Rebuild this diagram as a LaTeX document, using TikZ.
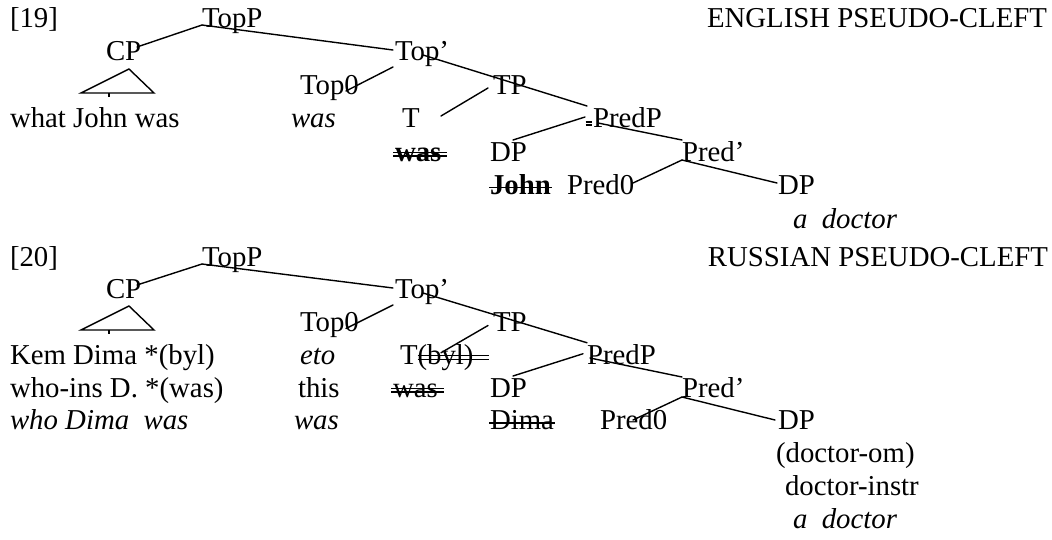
\documentclass[tikz,border=0pt]{standalone}
\usepackage{fontspec}
\setmainfont{Liberation Serif}
\begin{document}
\begin{tikzpicture}[x=1pt,y=-1pt,
  every node/.style={inner sep=0pt, outer sep=0pt, anchor=base west, font=\fontsize{28.8}{33}\selectfont},
  it/.style={font=\fontsize{28.8}{33}\selectfont\itshape},
  bf/.style={font=\fontsize{28.8}{33}\selectfont\bfseries},
  edge/.style={line width=1.4pt, line cap=round},
  strike/.style={line width=1.6pt},
  dstrike/.style={line width=1.1pt}]
\useasboundingbox (0,0) rectangle (1052,539);

% ---------------- English ----------------
\node (e19) at (10,27) {[19]};
\node (eTopP) at (202,27) {TopP};
\node[anchor=base east] (eTitle) at (1047,27) {ENGLISH PSEUDO-CLEFT};
\node (eCP) at (106,60.5) {CP};
\node (eTopb) at (395,60.5) {Top’};
\node (eTop0) at (300,94) {Top0};
\node (eTP) at (493,94) {TP};
\node (eWhat) at (10,127.5) {what John was};
\node[it] (eWas) at (291,127.5) {was};
\node (eT) at (402,127.5) {T};
\node (ePredP) at (593,127.5) {PredP};
\node[bf] (eWasS) at (395,161) {was};
\node (eDP) at (490,161) {DP};
\node (ePredb) at (682,161) {Pred’};
\node[bf] (eJohn) at (490,194.5) {John};
\node (ePred0) at (567,194.5) {Pred0};
\node (eDPb) at (778,194.5) {DP};
\node[it] (eDoc) at (793,228) {a\ \ doctor};

\coordinate (eTopP-a) at (202,25);
\coordinate (eCP-a) at (137,47);
\coordinate (eTopb-a) at (393,50);
\coordinate (eTopb-b) at (393,67);
\coordinate (eTop0-a) at (346,91);
\coordinate (eTopb-c) at (423,55);
\coordinate (eTP-a) at (508,81.4);
\coordinate (ePredP-a) at (587,106);
\coordinate (eTP-b) at (488,88);
\coordinate (eT-a) at (441,116);
\coordinate (ePredP-b) at (585,117);
\coordinate (eDP-a) at (513,140);
\coordinate (ePredP-c) at (598,123);
\coordinate (ePredb-a) at (682,140);
\coordinate (ePredb-b) at (682,160);
\coordinate (ePred0-a) at (633,183);
\coordinate (eDPb-a) at (777,183);
\coordinate (eTri-top) at (129,69);
\coordinate (eTri-l) at (81,93);
\coordinate (eTri-r) at (154,93);

\draw[edge] (eTopP-a) -- (eCP-a);
\draw[edge] (eTopP-a) -- (eTopb-a);
\draw[edge] (eTopb-b) -- (eTop0-a);
\draw[edge] (eTopb-c) -- (eTP-a);
\draw[edge] (eTP-a) -- (ePredP-a);
\draw[edge] (eTP-b) -- (eT-a);
\draw[edge] (ePredP-b) -- (eDP-a);
\draw[edge] (ePredP-c) -- (ePredb-a);
\draw[edge] (ePredb-b) -- (ePred0-a);
\draw[edge] (ePredb-b) -- (eDPb-a);
\draw[edge, line join=miter] (eTri-top) -- (eTri-l) -- (eTri-r) -- cycle;
\draw[line width=1.2pt] (109,93) -- (109,96.5);
\draw[dstrike] (585.5,122) -- (592,122);
\draw[dstrike] (585.5,125) -- (592,125);
\draw[dstrike] ([xshift=-2pt,yshift=5pt]eWasS.base west) -- ([xshift=6pt,yshift=5pt]eWasS.base east);
\draw[dstrike] ([xshift=-2pt,yshift=8.5pt]eWasS.base west) -- ([xshift=6pt,yshift=8.5pt]eWasS.base east);
\draw[strike] ([xshift=-1pt,yshift=7pt]eJohn.base west) -- ([xshift=1pt,yshift=7pt]eJohn.base east);

% ---------------- Russian ----------------
\node (r20) at (10,266) {[20]};
\node (rTopP) at (202,266) {TopP};
\node[anchor=base east] (rTitle) at (1048,266) {RUSSIAN PSEUDO-CLEFT};
\node (rCP) at (106,298.75) {CP};
\node (rTopb) at (395,298.75) {Top’};
\node (rTop0) at (300,331.5) {Top0};
\node (rTP) at (493,331.5) {TP};
\node (rKem) at (10,364.25) {Kem Dima *(byl)};
\node[it] (rEto) at (300,364.25) {eto};
\node (rT) at (400,364.25) {T};
\node (rByl) at (rT.base east) {(byl)};
\node (rPredP) at (587,364.25) {PredP};
\node (rWho) at (10,397) {who-ins D. *(was)};
\node (rThis) at (298,397) {this};
\node (rWasS) at (393,397) {was};
\node (rDP) at (490,397) {DP};
\node (rPredb) at (682,397) {Pred’};
\node[it] (rWhoIt) at (10,429.75) {who Dima\ \ was};
\node[it] (rWas) at (294,429.75) {was};
\node (rDima) at (490,429.75) {Dima};
\node (rPred0) at (600,429.75) {Pred0};
\node (rDPb) at (778,429.75) {DP};
\node (rOm) at (776,462.5) {(doctor-om)};
\node (rInstr) at (785,495.25) {doctor-instr};
\node[it] (rDoc) at (793,528) {a\ \ doctor};

\coordinate (rTopP-a) at (202,264);
\coordinate (rCP-a) at (137,285);
\coordinate (rTopb-a) at (393,288);
\coordinate (rTopb-b) at (393,305);
\coordinate (rTop0-a) at (346,328.5);
\coordinate (rTopb-c) at (423,293);
\coordinate (rTP-a) at (508,318.8);
\coordinate (rPredP-a) at (587,342.75);
\coordinate (rTP-b) at (488,325.5);
\coordinate (rT-a) at (441,352.75);
\coordinate (rPredP-b) at (583,353.75);
\coordinate (rDP-a) at (513,376);
\coordinate (rPredP-c) at (590,358);
\coordinate (rPredb-a) at (682,377);
\coordinate (rPredb-b) at (682,397);
\coordinate (rPred0-a) at (633,420);
\coordinate (rDPb-a) at (775,420);
\coordinate (rTri-top) at (129,306);
\coordinate (rTri-l) at (81,330);
\coordinate (rTri-r) at (154,330);

\draw[edge] (rTopP-a) -- (rCP-a);
\draw[edge] (rTopP-a) -- (rTopb-a);
\draw[edge] (rTopb-b) -- (rTop0-a);
\draw[edge] (rTopb-c) -- (rTP-a);
\draw[edge] (rTP-a) -- (rPredP-a);
\draw[edge] (rTP-b) -- (rT-a);
\draw[edge] (rPredP-b) -- (rDP-a);
\draw[edge] (rPredP-c) -- (rPredb-a);
\draw[edge] (rPredb-b) -- (rPred0-a);
\draw[edge] (rPredb-b) -- (rDPb-a);
\draw[edge, line join=miter] (rTri-top) -- (rTri-l) -- (rTri-r) -- cycle;
\draw[line width=1.2pt] (109,330) -- (109,333.5);
\draw[dstrike] ([yshift=5pt]rByl.base west) -- ([xshift=15pt,yshift=5pt]rByl.base east);
\draw[dstrike] ([yshift=8.5pt]rByl.base west) -- ([xshift=15pt,yshift=8.5pt]rByl.base east);
\draw[dstrike] ([xshift=-2pt,yshift=5pt]rWasS.base west) -- ([xshift=6pt,yshift=5pt]rWasS.base east);
\draw[dstrike] ([xshift=-2pt,yshift=8.5pt]rWasS.base west) -- ([xshift=6pt,yshift=8.5pt]rWasS.base east);
\draw[strike] ([xshift=-1pt,yshift=7pt]rDima.base west) -- ([xshift=1pt,yshift=7pt]rDima.base east);
\end{tikzpicture}
\end{document}
